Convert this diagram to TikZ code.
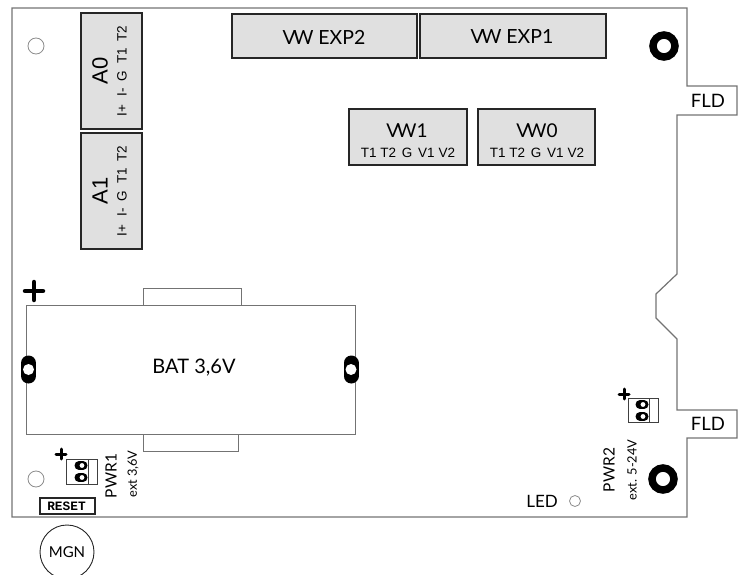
\documentclass[tikz,border=0pt]{standalone}
\usepackage{fontspec}
\setmainfont{Lato}
\newfontfamily\pinfont{Liberation Sans}
\newfontfamily\resetfont{Liberation Mono}
\tikzset{
  board/.style={draw=black!55,line width=1.2pt},
  batt/.style={draw=black!55,line width=0.9pt},
  conn/.style={draw=black!85,fill=black!12,line width=1.3pt},
  hole/.style={draw=black!45,line width=0.8pt},
  ring/.style={draw=black,line width=7.5pt},
  slot/.style={draw=black,line width=15pt,line cap=round},
  contact/.style={draw=black,line width=9pt,line cap=round},
  pinhole/.style={fill=white,draw=none},
  jumper/.style={draw=black!75,line width=1pt},
  pluss/.style={draw=black,line width=3pt,line cap=round},
  big/.style={font=\fontsize{19}{19}\selectfont,inner sep=0pt},
  mid/.style={font=\fontsize{19.5}{20}\selectfont,inner sep=0pt},
  pins/.style={font=\pinfont\fontsize{13.5}{14}\selectfont,inner sep=0pt},
  apin/.style={font=\pinfont\fontsize{22}{22}\selectfont,inner sep=0pt,rotate=90},
  pwr/.style={font=\fontsize{15.5}{16}\selectfont,inner sep=0pt,rotate=90},
  ext/.style={font=\fontsize{12.8}{13}\selectfont,inner sep=0pt,rotate=90},
  fld/.style={font=\fontsize{18.5}{19}\selectfont,inner sep=0pt},
}
\newcommand{\vw}{V\kern-2.5pt W}
\begin{document}
\begin{tikzpicture}[x=1pt,y=-1pt]
  \useasboundingbox (0,0) rectangle (745,575);
  \draw[board] (12,8)--(687,8)--(687,86)--(737,86)--(737,115)--(677,115)--(677,274)--(656,294)--(656,318)--(677,339)--(677,410)--(737,410)--(737,438)--(687,438)--(687,517)--(12,517)--cycle;
  \draw[conn] (81,13) rectangle (142,129);
  \draw[conn] (81,133) rectangle (142,249);
  \draw[conn] (232,14) rectangle (417,58);
  \draw[conn] (420,14) rectangle (606,58);
  \draw[conn] (349,109) rectangle (467,165);
  \draw[conn] (478,109) rectangle (595,165);
  \draw (100,71) node[apin] (A0) {A0};
  \draw (100,191) node[apin] (A1) {A1};
  \draw (122,71) node[pins,rotate=90] (A0pins) {I+\hspace{5pt} I-\hspace{3pt} G\hspace{3pt} T1\hspace{3pt} T2};
  \draw (122,191) node[pins,rotate=90] (A1pins) {I+\hspace{5pt} I-\hspace{3pt} G\hspace{3pt} T1\hspace{3pt} T2};
  \draw (324,37) node[mid] (exp2) {\vw{} EXP2};
  \draw (512,37) node[mid] (exp1) {\vw{} EXP1};
  \draw (407,131) node[big] (vw1) {\vw 1};
  \draw (537,131) node[big] (vw0) {\vw 0};
  \draw (408,153) node[pins] (vw1pins) {T1 T2\hspace{2pt} G\hspace{2pt} V1 V2};
  \draw (537,153) node[pins] (vw0pins) {T1 T2\hspace{2pt} G\hspace{2pt} V1 V2};
  \draw[batt] (26,305) rectangle (355,434);
  \draw[batt] (143,305)--(143,288)--(241,288)--(241,305);
  \draw[batt] (143,434)--(143,451)--(238,451)--(238,434);
  \draw (194,368) node[mid,font=\fontsize{20}{20}\selectfont] (bat) {BAT 3,6V};
  \draw[slot] (28.5,363)--(28.5,376);
  \draw[slot] (351,363)--(351,376);
  \draw[pinhole] (28.5,369.5) circle (5.5);
  \draw[pinhole] (351,369.5) circle (5.5);
  \draw[pluss,line width=4.5pt] (25,291)--(43,291);
  \draw[pluss,line width=4.5pt] (34,282)--(34,300);
  \draw[hole] (36,46) circle (8);
  \draw[hole] (36,479) circle (8);
  \draw[ring] (664,46) circle (11);
  \draw[ring] (663,479) circle (11);
  \draw[hole] (575,501) circle (5.5);
  \draw (558,501) node[font=\fontsize{17}{17}\selectfont,anchor=east,inner sep=0pt] (led) {LED};
  \draw[jumper] (66,459) rectangle (97,484);
  \draw[jumper] (88,459)--(88,484);
  \draw[contact] (79,465.5)--(83,465.5);
  \draw[contact] (79,477.5)--(83,477.5);
  \draw[pinhole] (82,465.5) circle (2.4);
  \draw[pinhole] (82,477.5) circle (2.4);
  \draw[jumper] (628,398) rectangle (658,422);
  \draw[jumper] (649,398)--(649,422);
  \draw[contact] (640,404.5)--(644,404.5);
  \draw[contact] (640,416.5)--(644,416.5);
  \draw[pinhole] (643,404.5) circle (2.4);
  \draw[pinhole] (643,416.5) circle (2.4);
  \draw[pluss] (56,454)--(66,454);
  \draw[pluss] (61,449)--(61,459);
  \draw[pluss] (619,394)--(629,394);
  \draw[pluss] (624,389)--(624,399);
  \draw (111,476) node[pwr] (pwr1) {PWR1};
  \draw (133,474) node[ext] (ext1) {ext 3,6V};
  \draw (609,470) node[pwr] (pwr2) {PWR2};
  \draw (632,470) node[ext] (ext2) {ext. 5-24V};
  \draw (708,101) node[fld] (fld1) {FLD};
  \draw (708,424) node[fld] (fld2) {FLD};
  \draw[draw=black!85,line width=1.1pt] (40,498) rectangle (95,514);
  \draw (66.5,506.5) node[font=\resetfont\bfseries\fontsize{12.8}{13}\selectfont,inner sep=0pt] (reset) {RESET};
  \draw[draw=black!85,line width=0.9pt] (67,552) circle (27);
  \draw (67,552) node[font=\fontsize{15}{15}\selectfont,inner sep=0pt] (mgn) {MGN};
\end{tikzpicture}
\end{document}
